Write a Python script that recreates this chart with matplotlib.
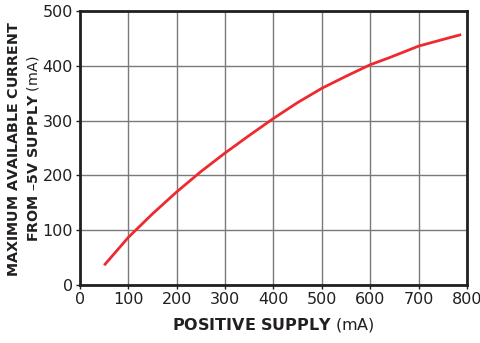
import matplotlib
matplotlib.use("Agg")
import matplotlib.pyplot as plt

# positive supply load (mA) vs available current from the -5V rail (mA)
pos_supply = [50, 100, 150, 200, 250, 300, 350, 400, 450, 500, 550, 600, 640, 680, 700, 750, 788]
neg_current = [36, 87, 130, 170, 207, 241, 273, 304, 333, 359, 381, 402, 415, 429, 436, 448, 457]

x_ticks = [0, 100, 200, 300, 400, 500, 600, 700, 800]
y_ticks = [0, 100, 200, 300, 400, 500]

plt.rcParams['font.family'] = ['DejaVu Sans']
plt.rcParams['mathtext.fontset'] = 'dejavusans'

fig = plt.figure(figsize=(4.81, 3.43), dpi=100)
ax = fig.add_axes([0.1663, 0.1691, 0.9709 - 0.1663, 0.9679 - 0.1691])

ax.plot(pos_supply, neg_current, color='#ee2a30', lw=2.0, solid_capstyle='butt',
        solid_joinstyle='round', zorder=3)

ax.set_xlim(0, 800)
ax.set_ylim(0, 500)
ax.set_xticks(x_ticks)
ax.set_yticks(y_ticks)
ax.grid(True, color='#7a7a7a', lw=1.0)
ax.set_axisbelow(True)

for s in ax.spines.values():
    s.set_linewidth(2.0)
    s.set_color('#231f20')

ax.tick_params(direction='out', length=3, width=1, colors='#231f20',
               labelsize=11.5, pad=2)

fig.text(0.5 * (0.1663 + 0.9709), 0.025, r'$\bf{POSITIVE\ SUPPLY}$ (mA)',
         ha='center', va='bottom', fontsize=11.5, color='#231f20')

fig.text(0.030, 0.565, r'$\bf{MAXIMUM\ AVAILABLE\ CURRENT}$',
         rotation=90, ha='center', va='center', fontsize=10.3, color='#231f20')
fig.text(0.069, 0.565, r'$\bf{FROM\ –5V\ SUPPLY}$ (mA)',
         rotation=90, ha='center', va='center', fontsize=10.3, color='#231f20')

fig.savefig('out.png', dpi=100)
